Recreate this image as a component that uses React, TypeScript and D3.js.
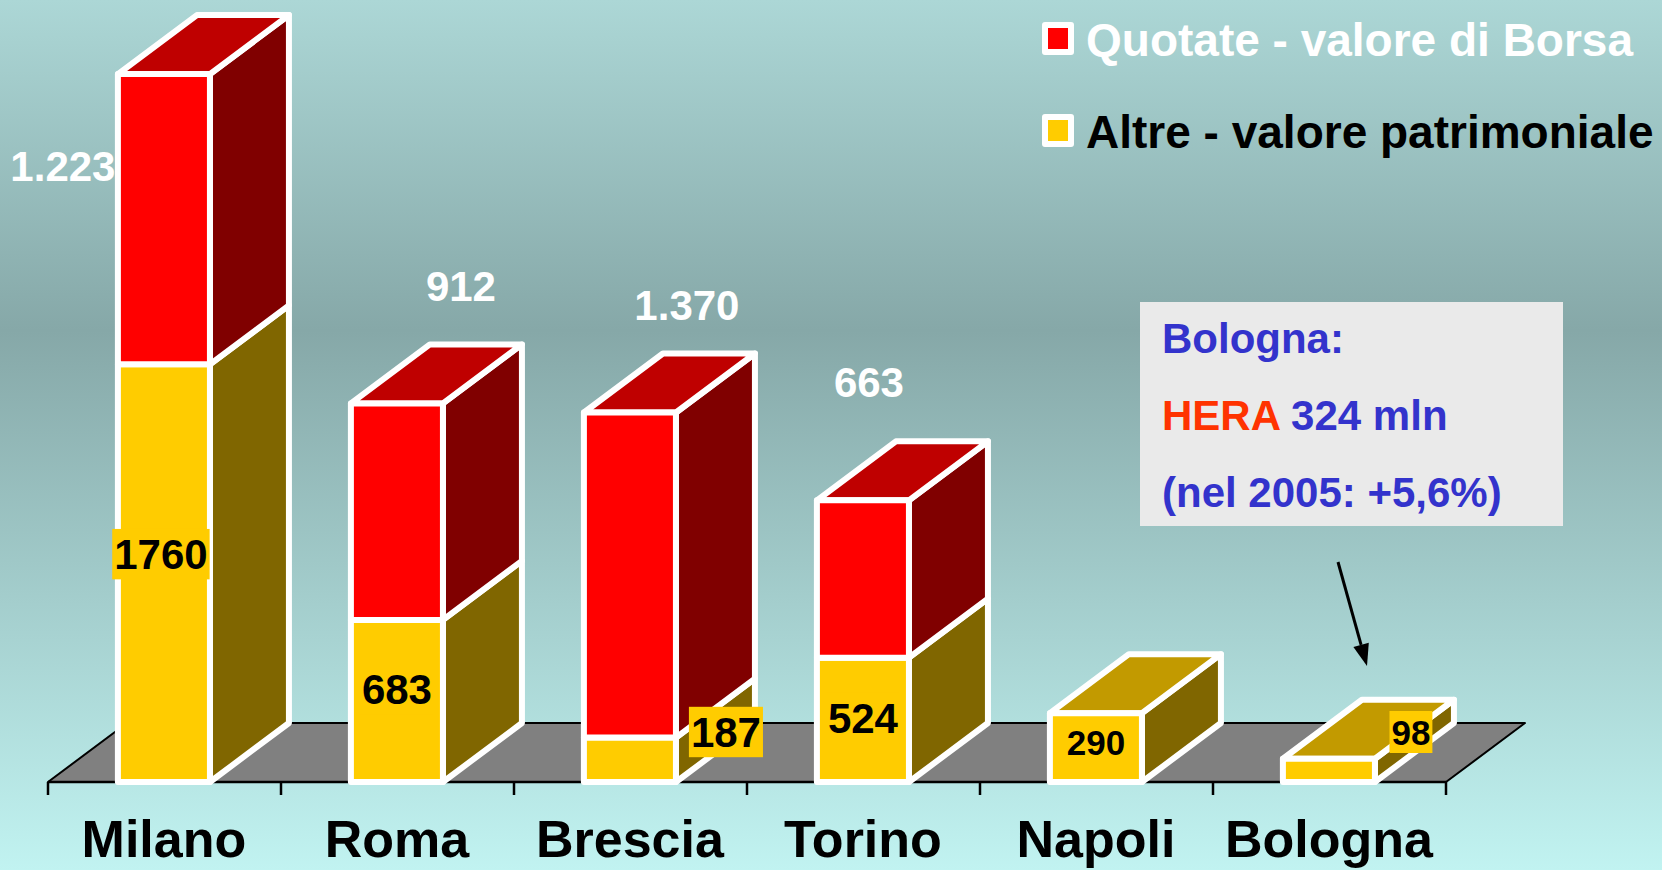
import React from 'react';
import * as d3 from 'd3';

// values (mln euro)
const cities = ['Milano', 'Roma', 'Brescia', 'Torino', 'Napoli', 'Bologna'];
const altre = [1760, 683, 187, 524, 290, 98];
const quotate = [1223, 912, 1370, 663, 0, 0];
const quotateLabels = ['1.223', '912', '1.370', '663', '', ''];
const legendLabels = ['Quotate - valore di Borsa', 'Altre - valore patrimoniale'];

// hand placed label nudges, like in the original slide
const redLabelNudge = [[-101, 92], [64, -118], [57, -108], [6, -118], [0, 0], [0, 0]];
const yellowLabelNudge = [[-3, -11], [0, -4], [8, 0], [0, 6], [0, 3], [-6, 0]];

const W = 1662;
const H = 870;
const floorY = 782;
const DX = 79; // depth offset of the 3D boxes
const DY = 59;
const FONT = '"Liberation Sans", Arial, sans-serif';

const RED = { front: '#ff0000', side: '#800000', top: '#bf0000' };
const YEL = { front: '#ffcc00', side: '#806600', top: '#c29a00' };

const x = d3.scaleBand<string>().domain(cities).range([48, 1446]).padding(0);
const y = d3.scaleLinear().domain([0, 3000]).range([floorY, 70]);

const step = x.step();
const barW = step * 0.395;
const barX = (c: string) => (x(c) as number) + step * 0.3;

const pts = (p: number[][]) => p.map(d => d.join(',')).join(' ');

function Segment({ x0, w, yb, yt, col, showTop }: any) {
  const stroke = { stroke: '#fff', strokeWidth: 6, strokeLinejoin: 'round' as const };
  return (
    <g>
      <polygon
        points={pts([[x0 + w, yb], [x0 + w + DX, yb - DY], [x0 + w + DX, yt - DY], [x0 + w, yt]])}
        fill={col.side}
        {...stroke}
      />
      {showTop && (
        <polygon
          points={pts([[x0, yt], [x0 + DX, yt - DY], [x0 + w + DX, yt - DY], [x0 + w, yt]])}
          fill={col.top}
          {...stroke}
        />
      )}
      <rect x={x0} y={yt} width={w} height={yb - yt} fill={col.front} {...stroke} />
    </g>
  );
}

export default function App() {
  const x0 = x.range()[0];
  const x1 = x.range()[1];
  const ticks = d3.range(cities.length + 1).map(i => x0 + i * step);

  // arrow from the note box down to Bologna
  const a0 = [1338, 562];
  const a1 = [1367, 666];
  const ang = Math.atan2(a1[1] - a0[1], a1[0] - a0[0]);
  const hl = 22, hw = 8;
  const base = [a1[0] - hl * Math.cos(ang), a1[1] - hl * Math.sin(ang)];
  const head = [
    a1,
    [base[0] + hw * Math.sin(ang), base[1] - hw * Math.cos(ang)],
    [base[0] - hw * Math.sin(ang), base[1] + hw * Math.cos(ang)],
  ];

  return (
    <svg width={W} height={H} style={{ position: 'absolute', left: 0, top: 0, fontFamily: FONT }}>
      <defs>
        <linearGradient id="bg" x1="0" y1="0" x2="0" y2="1">
          <stop offset="0" stopColor="#acd7d6" />
          <stop offset="0.38" stopColor="#86a8a8" />
          <stop offset="1" stopColor="#c1f3f1" />
        </linearGradient>
      </defs>
      <rect width={W} height={H} fill="url(#bg)" />

      {/* floor */}
      <polygon
        points={pts([[x0, floorY], [x1, floorY], [x1 + DX, floorY - DY], [x0 + DX, floorY - DY]])}
        fill="#808080"
        stroke="#000"
        strokeWidth={2}
        strokeLinejoin="round"
      />
      <line x1={x0} x2={x1} y1={floorY} y2={floorY} stroke="#000" strokeWidth={2.5} />
      {ticks.map((t, i) => (
        <line key={i} x1={t} x2={t} y1={floorY} y2={floorY + 13} stroke="#000" strokeWidth={2.5} />
      ))}

      {/* bars */}
      {cities.map((c, i) => {
        const bx = barX(c);
        const yb = y(0);
        const ym = y(altre[i]);
        const yt = y(altre[i] + quotate[i]);
        return (
          <g key={c}>
            <Segment x0={bx} w={barW} yb={yb} yt={ym} col={YEL} showTop={quotate[i] === 0} />
            {quotate[i] > 0 && <Segment x0={bx} w={barW} yb={ym} yt={yt} col={RED} showTop />}
          </g>
        );
      })}

      {/* labels of the listed companies (white) */}
      {cities.map((c, i) => {
        if (!quotateLabels[i]) return null;
        const cx = barX(c) + barW / 2 + redLabelNudge[i][0];
        const cy = y(altre[i] + quotate[i]) + redLabelNudge[i][1];
        return (
          <text key={c} x={cx} y={cy} dy="0.36em" textAnchor="middle" fill="#fff" fontWeight="bold" fontSize={42}>
            {quotateLabels[i]}
          </text>
        );
      })}

      {/* labels of the other companies (black on yellow) */}
      {cities.map((c, i) => {
        const bx = barX(c);
        const yb = y(0);
        const ym = y(altre[i]);
        const fs = quotate[i] === 0 ? 35 : 42;
        const small = yb - ym < 50;
        const cx = (small ? bx + barW + 42 : bx + barW / 2) + yellowLabelNudge[i][0];
        const cy = (small ? yb - 50 : (yb + ym) / 2 - 8) + yellowLabelNudge[i][1];
        const label = String(altre[i]);
        const tw = label.length * 0.556 * fs + 4;
        const th = fs * 1.2;
        return (
          <g key={c}>
            <rect x={cx - tw / 2} y={cy - th / 2} width={tw} height={th} fill={YEL.front} />
            <text x={cx} y={cy} dy="0.36em" textAnchor="middle" fill="#000" fontWeight="bold" fontSize={fs}>
              {label}
            </text>
          </g>
        );
      })}

      {/* category names */}
      {cities.map(c => (
        <text key={c} x={barX(c) + barW / 2} y={857} textAnchor="middle" fontWeight="bold" fontSize={52} fill="#000">
          {c}
        </text>
      ))}

      {/* legend */}
      {legendLabels.map((l, i) => (
        <g key={l} transform={`translate(0, ${i * 92})`}>
          <rect x={1045} y={25} width={26} height={27} fill={i === 0 ? RED.front : YEL.front} stroke="#fff" strokeWidth={6} strokeLinejoin="round" />
          <text x={1086} y={56} fontWeight="bold" fontSize={46} fill={i === 0 ? '#fff' : '#000'}>
            {l}
          </text>
        </g>
      ))}

      {/* note box */}
      <rect x={1140} y={302} width={423} height={224} fill="#eaeaea" />
      <g fontWeight="bold" fontSize={42} fill="#3333cc">
        <text x={1162} y={353}>Bologna:</text>
        <text x={1162} y={430}>
          <tspan fill="#ff3300">HERA</tspan> 324 mln
        </text>
        <text x={1162} y={507}>(nel 2005: +5,6%)</text>
      </g>
      <line x1={a0[0]} y1={a0[1]} x2={base[0]} y2={base[1]} stroke="#000" strokeWidth={3} />
      <polygon points={pts(head)} fill="#000" />
    </svg>
  );
}
